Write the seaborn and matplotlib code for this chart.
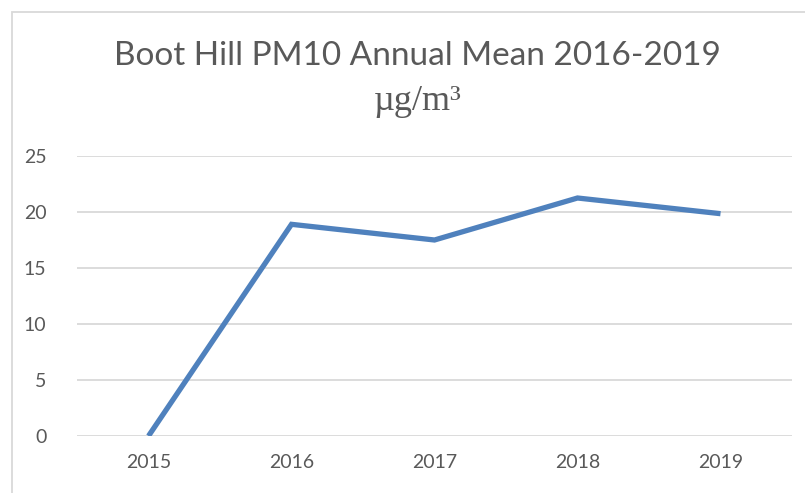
import matplotlib
matplotlib.use("Agg")
import matplotlib.pyplot as plt
import seaborn as sns
import pandas as pd
from matplotlib.patches import Rectangle

years = ["2015", "2016", "2017", "2018", "2019"]
pm10 = [0.0, 18.9, 17.5, 21.25, 19.85]
yticks = [0, 5, 10, 15, 20, 25]

sns.set_theme(style="white")
plt.rcParams['font.family'] = ['Lato', 'DejaVu Sans']

W, H = 805, 493
fig = plt.figure(figsize=(W / 100, H / 100), dpi=100)
ax = fig.add_axes([77 / W, 1 - 436 / H, (792 - 77) / W, (436 - 156) / H])

df = pd.DataFrame({"year": years, "pm10": pm10})
sns.lineplot(data=df, x="year", y="pm10", ax=ax, color="#4F81BD", linewidth=3.8,
             sort=False, solid_joinstyle="miter", solid_capstyle="butt")

ax.set_xlim(-0.5, len(years) - 0.5)
ax.set_ylim(0, 25)
ax.set_yticks(yticks)
ax.set_yticklabels([str(v) for v in yticks])
ax.grid(axis="y", color="#D9D9D9", linewidth=1.3)
ax.set_axisbelow(True)
for s in ax.spines.values():
    s.set_visible(False)
ax.tick_params(axis="both", length=0, labelsize=14, labelcolor="#595959")
ax.tick_params(axis="y", pad=22)
ax.tick_params(axis="x", pad=13)
ax.set_xlabel("")
ax.set_ylabel("")

fig.text(417 / W, 1 - 56 / H, "Boot Hill PM10 Annual Mean 2016-2019", ha="center", va="center",
         fontsize=24, color="#595959")
fig.text(418 / W, 1 - 101 / H, "µg/m³", ha="center", va="center",
         fontsize=26, color="#595959", family=["Liberation Serif"])

fig.patches.append(Rectangle((12 / W, -0.1), 1.2, 1 - 12 / H + 0.1, transform=fig.transFigure,
                             fill=False, edgecolor="#D9D9D9", linewidth=1.3))

fig.savefig("out.png", dpi=100)
